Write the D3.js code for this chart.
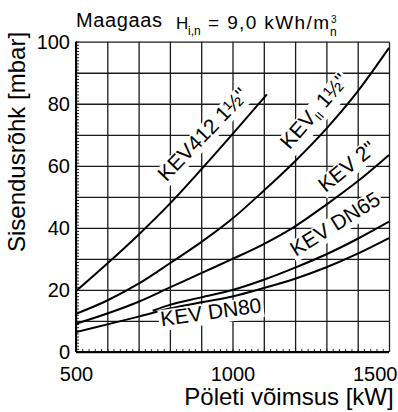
<!DOCTYPE html>
<html>
<head>
<meta charset="utf-8">
<script src="https://cdn.jsdelivr.net/npm/d3@7"></script>
<style>
body{margin:0;background:#fff}
svg text{font-family:"Liberation Sans",Arial,Helvetica,sans-serif;fill:#000}
</style>
</head>
<body>
<script>
// values (kW -> mbar)
var kwAll = [500,600,700,800,900,1000,1100,1200,1300,1400,1500];
var kev412Kw = [500,600,700,800,900,1000,1110];
var kev412 = [19.6,28.5,37.8,47.8,58.8,70.2,83];
var kevII = [12.3,16.6,22,28.6,35.4,43,52,61.5,72,84,98];
var kev2 = [9.1,12.4,16.2,20.8,25.4,30,34.8,40.5,47.5,55,63.5];
var dn65Kw = [745,800,900,1000,1100,1200,1300,1400,1500];
var dn65 = [13.3,15.2,17.6,20,23.3,27.2,31.5,36.5,42];
var dn80 = [6.4,8.9,11.4,14,16,17.9,20.6,23.6,27.3,31.7,36.7];

var xTicks = [500,1000,1500];
var yTicks = [0,20,40,60,80,100];

var W = 398, H = 412;
var svg = d3.select("body").append("svg").attr("width",W).attr("height",H);

var x = d3.scaleLinear().domain([500,1500]).range([76,389]);
var y = d3.scaleLinear().domain([0,100]).range([352,41.7]);

// grid
var gx = svg.append("g").attr("transform","translate(0,352)")
  .call(d3.axisBottom(x).tickValues(d3.range(500,1501,100)).tickSize(-(352-41.7)).tickFormat(""));
var gy = svg.append("g").attr("transform","translate(76,0)")
  .call(d3.axisLeft(y).tickValues(d3.range(0,101,10)).tickSize(-(389-76)).tickFormat(""));
[gx,gy].forEach(function(g){
  g.select(".domain").remove();
  g.selectAll("line").attr("stroke","#1a1a1a").attr("stroke-width",1.3);
});

// minor ticks
var mx = svg.append("g").attr("transform","translate(0,352)")
  .call(d3.axisBottom(x).tickValues(d3.range(500,1501,20)).tickSize(-3).tickFormat(""));
var my = svg.append("g").attr("transform","translate(76,0)")
  .call(d3.axisLeft(y).tickValues(d3.range(0,101,1)).tickSize(-3).tickFormat(""));
[mx,my].forEach(function(g){
  g.select(".domain").remove();
  g.selectAll("line").attr("stroke","#222").attr("stroke-width",1);
});

// axis frame lines
svg.append("line").attr("x1",76).attr("x2",76).attr("y1",41.7).attr("y2",352)
  .attr("stroke","#000").attr("stroke-width",2);
svg.append("line").attr("x1",76).attr("x2",389).attr("y1",352).attr("y2",352)
  .attr("stroke","#000").attr("stroke-width",2);

// tick labels
var ly = svg.append("g").attr("transform","translate(76,0)")
  .call(d3.axisLeft(y).tickValues(yTicks).tickSize(0).tickPadding(6).tickFormat(d3.format("d")));
var lx = svg.append("g").attr("transform","translate(0,352)")
  .call(d3.axisBottom(x).tickValues(xTicks).tickSize(0).tickPadding(15).tickFormat(d3.format("d")));
[lx,ly].forEach(function(g){
  g.select(".domain").remove();
  g.attr("font-family",null).attr("font-size",null);
  g.selectAll("text").style("font-size","20px").attr("fill","#000");
});
// last x label sits against the right edge
lx.selectAll("text").filter(function(d){return d===1500;})
  .attr("text-anchor","end").attr("x",397-x(1500));

// curves
var line = d3.line().x(function(d){return x(d[0]);}).y(function(d){return y(d[1]);})
  .curve(d3.curveMonotoneX);
var series = [
  d3.zip(kev412Kw,kev412),
  d3.zip(kwAll,kevII),
  d3.zip(kwAll,kev2),
  d3.zip(dn65Kw,dn65),
  d3.zip(kwAll,dn80)
];
svg.append("g").selectAll("path").data(series).enter().append("path")
  .attr("d",line).attr("fill","none").attr("stroke","#000").attr("stroke-width",2);

// curve labels (anchor in kW / mbar, rotation in degrees)
var labels = [
  {kw:921.7, mbar:68.5, angle:-46, parts:[{t:"KEV412 1\u00bd\""}]},
  {kw:1278, mbar:76.1, angle:-49, parts:[{t:"KEV"},{t:"II",s:"12px",dy:4},{t:" 1\u00bd\"",s:"21px",dy:-4}]},
  {kw:1380, mbar:58, angle:-39, parts:[{t:"KEV 2\""}]},
  {kw:1340, mbar:39.3, angle:-32, parts:[{t:"KEV DN65"}]},
  {kw:934, mbar:10.6, angle:-8, parts:[{t:"KEV DN80"}]}
];
labels.forEach(function(l){
  var g = svg.append("g")
    .attr("transform","translate("+x(l.kw)+","+y(l.mbar)+") rotate("+l.angle+")");
  var bg = g.append("rect").attr("fill","#fff");
  var t = g.append("text").attr("text-anchor","middle").style("font-size","21px");
  l.parts.forEach(function(p){
    var s = t.append("tspan").text(p.t);
    if (p.s) s.style("font-size",p.s);
    if (p.dy) s.attr("dy",p.dy);
  });
  var b = t.node().getBBox();
  bg.attr("x",b.x-2).attr("y",b.y+3).attr("width",b.width+4).attr("height",b.height-2);
});

// title
svg.append("text").attr("x",76).attr("y",27).style("font-size","20px")
  .attr("textLength",86).attr("lengthAdjust","spacing").text("Maagaas");
svg.append("text").attr("x",176).attr("y",29).style("font-size","17px").text("H");
svg.append("text").attr("x",188).attr("y",35).style("font-size","12px").text("i,n");
svg.append("text").attr("x",208).attr("y",29).style("font-size","19px")
  .attr("textLength",121).attr("lengthAdjust","spacing").text("= 9,0 kWh/m");
svg.append("text").attr("x",331).attr("y",23).style("font-size","10px").text("3");
svg.append("text").attr("x",330).attr("y",36).style("font-size","12px").text("n");

// axis titles
svg.append("text").attr("transform","translate(25,142) rotate(-90)")
  .attr("text-anchor","middle").style("font-size","24px").text("Sisendusrõhk [mbar]");
svg.append("text").attr("x",289).attr("y",405)
  .attr("text-anchor","middle").style("font-size","24px").text("Pöleti võimsus [kW]");
</script>
</body>
</html>
